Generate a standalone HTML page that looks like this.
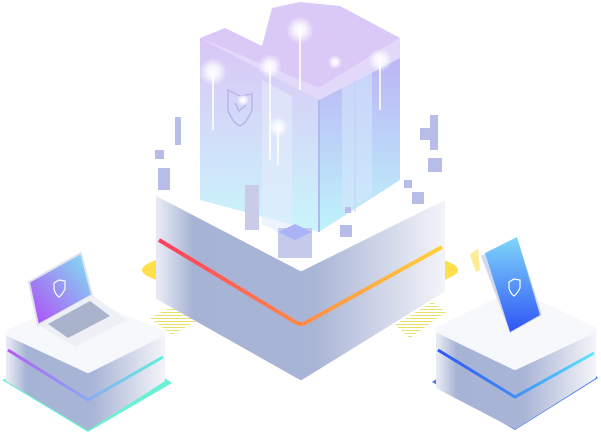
<!DOCTYPE html>
<html><head><meta charset="utf-8"><style>html,body{margin:0;padding:0;background:#fff;width:601px;height:435px;overflow:hidden}</style></head>
<body>
<svg width="601" height="435" viewBox="0 0 601 435" xmlns="http://www.w3.org/2000/svg">
<defs>
<linearGradient id="side" x1="0" y1="0" x2="1" y2="0"><stop offset="0" stop-color="#e6e9f3"/><stop offset="0.12" stop-color="#a7b3d5"/><stop offset="0.55" stop-color="#a9b5d6"/><stop offset="1" stop-color="#f2f3f8"/></linearGradient>
<linearGradient id="band" x1="0" y1="0" x2="1" y2="0"><stop offset="0" stop-color="#ff3d5e"/><stop offset="0.5" stop-color="#ff8a4a"/><stop offset="1" stop-color="#ffd23a"/></linearGradient>
<linearGradient id="bandL" x1="0" y1="0" x2="1" y2="0"><stop offset="0" stop-color="#b05cf5"/><stop offset="0.5" stop-color="#8ba7f2"/><stop offset="1" stop-color="#5ef0dc"/></linearGradient>
<linearGradient id="bandR" x1="0" y1="0" x2="1" y2="0"><stop offset="0" stop-color="#3156f5"/><stop offset="0.5" stop-color="#3f8cf8"/><stop offset="1" stop-color="#5fe6fb"/></linearGradient>
<linearGradient id="bL" x1="0" y1="0" x2="0" y2="1"><stop offset="0" stop-color="#d8c3f6"/><stop offset="1" stop-color="#c6f5fb"/></linearGradient>
<linearGradient id="bR" x1="0" y1="0" x2="0" y2="1"><stop offset="0" stop-color="#bcb5f5"/><stop offset="1" stop-color="#bdf3fb"/></linearGradient>
<linearGradient id="scr" x1="0" y1="1" x2="1" y2="0"><stop offset="0" stop-color="#b248f7"/><stop offset="1" stop-color="#7fe6f0"/></linearGradient>
<linearGradient id="ph" x1="0" y1="0" x2="0" y2="1"><stop offset="0" stop-color="#7fd7fb"/><stop offset="1" stop-color="#2f55f6"/></linearGradient>
<pattern id="hatch" width="3" height="3" patternUnits="userSpaceOnUse"><rect width="3" height="1" fill="#e8e06a"/></pattern>
<radialGradient id="glow"><stop offset="0" stop-color="#fff" stop-opacity="1"/><stop offset="0.4" stop-color="#fff" stop-opacity="0.8"/><stop offset="1" stop-color="#fff" stop-opacity="0"/></radialGradient>
</defs>
<ellipse cx="300" cy="270" rx="158" ry="24" fill="#ffdf4a"/>
<polygon points="150,318 190,298 212,312 172,335" fill="url(#hatch)"/>
<polygon points="395,325 432,302 446,312 410,338" fill="url(#hatch)"/>
<!-- central block -->
<path d="M159,193 L159,297 L301,377 L442,290 L442,197 L301,267 Z" fill="url(#side)" stroke="url(#side)" stroke-width="6" stroke-linejoin="round"/>
<path d="M159,240 L295,322 Q301,326 307,322 L442,247" fill="none" stroke="url(#band)" stroke-width="4"/>
<path d="M159,193 L301,110 L442,197 L301,267 Z" fill="#fff" stroke="#fff" stroke-width="8" stroke-linejoin="round"/>
<!-- buildings -->
<polygon points="200,38 225,28 262,46 272,8 300,2 340,6 400,38 319,88" fill="#dac8f7"/>
<polygon points="200,38 319,100 319,232 200,200" fill="url(#bL)" opacity="0.95"/>
<polygon points="319,100 400,58 400,180 319,232" fill="url(#bR)"/>
<polygon points="200,38 319,100 400,58 400,38 319,88" fill="#cfc0f6" opacity="0.6"/>
<polygon points="262,80 292,96 292,240 262,224" fill="#e4ebfb" opacity="0.6"/>
<polygon points="342,88 372,72 372,196 342,212" fill="#d4e6fb" opacity="0.6"/>
<line x1="319" y1="100" x2="319" y2="232" stroke="#aeb9ee" stroke-width="2"/>
<line x1="355" y1="80" x2="355" y2="212" stroke="#c5cdf3" stroke-width="1"/>
<path d="M228,90 l12,6 l12,-2 l0,16 q-6,14 -12,16 q-8,-4 -12,-16 Z" fill="none" stroke="#b9b4ea" stroke-width="1.5"/>
<path d="M235,103 l4,8 l7,-6" fill="none" stroke="#b9b4ea" stroke-width="1.5"/>
<g fill="url(#glow)">
<circle cx="213" cy="72" r="14"/><circle cx="270" cy="66" r="12"/><circle cx="300" cy="30" r="14"/><circle cx="380" cy="60" r="12"/><circle cx="278" cy="127" r="10"/><circle cx="335" cy="62" r="7"/><circle cx="243" cy="100" r="6"/></g>
<g stroke="#fff" stroke-width="2" opacity="0.8"><line x1="213" y1="72" x2="213" y2="130"/><line x1="270" y1="66" x2="270" y2="160"/><line x1="300" y1="30" x2="300" y2="90"/><line x1="380" y1="60" x2="380" y2="110"/><line x1="278" y1="127" x2="278" y2="165"/></g>
<g fill="#b7bde6">
<rect x="175" y="117" width="6" height="28"/><rect x="155" y="150" width="9" height="9"/><rect x="158" y="168" width="12" height="22"/>
<rect x="245" y="185" width="14" height="45" fill="#c9cbe8"/><rect x="278" y="228" width="34" height="30" fill="#c5c9ea"/><rect x="340" y="225" width="12" height="12"/><rect x="345" y="207" width="6" height="6"/>
<rect x="430" y="115" width="8" height="35"/><rect x="420" y="128" width="16" height="12"/><rect x="428" y="158" width="14" height="14"/><rect x="404" y="180" width="8" height="8"/><rect x="412" y="192" width="12" height="12"/>
</g>
<polygon points="278,232 295,224 312,232 295,240" fill="#a9b3f5"/>
<!-- laptop platform -->
<path d="M2,380 L88,432 L172,383 L165,378 L88,425 L8,378 Z" fill="#6af0d4"/>
<path d="M8,333 L8,380 L88,428 L163,380 L163,333 L88,370 Z" fill="url(#side)" stroke="url(#side)" stroke-width="4" stroke-linejoin="round"/>
<path d="M8,350 L88,400 L163,357" fill="none" stroke="url(#bandL)" stroke-width="3"/>
<path d="M8,333 L80,300 L163,333 L88,370 Z" fill="#f7f8fc" stroke="#f7f8fc" stroke-width="6" stroke-linejoin="round"/>
<polygon points="29,282 81,253 92,295 38,325" fill="url(#scr)" stroke="#dfe3f0" stroke-width="2"/>
<path d="M54,283 l5,-3 l6,1 l0,8 q-3,6 -6,8 q-4,-3 -5,-8 Z" fill="none" stroke="#fff" stroke-width="1.2"/>
<polygon points="38,325 92,295 127,320 75,347" fill="#eef0f6"/>
<polygon points="48,324 90,301 110,316 68,338" fill="#aab3cc"/>
<!-- phone platform -->
<path d="M432,382 L515,430 L598,378 L594,374 L515,423 L438,378 Z" fill="#4a78f5"/>
<path d="M438,330 L438,387 L515,427 L594,377 L594,330 L515,367 Z" fill="url(#side)" stroke="url(#side)" stroke-width="4" stroke-linejoin="round"/>
<path d="M438,350 L515,397 L594,353" fill="none" stroke="url(#bandR)" stroke-width="3"/>
<path d="M438,330 L515,292 L594,330 L515,367 Z" fill="#f7f8fc" stroke="#f7f8fc" stroke-width="6" stroke-linejoin="round"/>
<polygon points="470,255 478,248 480,270 476,272" fill="#ffe36a" opacity="0.7"/>
<polygon points="481,256 517,237 542,315 510,333" fill="#d3d9ee"/>
<polygon points="485,253 517,237 540,315 510,332" fill="url(#ph)"/>
<path d="M509,282 l5,-3 l6,1 l0,8 q-3,6 -6,8 q-4,-3 -5,-8 Z" fill="none" stroke="#fff" stroke-width="1.2"/>
</svg>
</body></html>
